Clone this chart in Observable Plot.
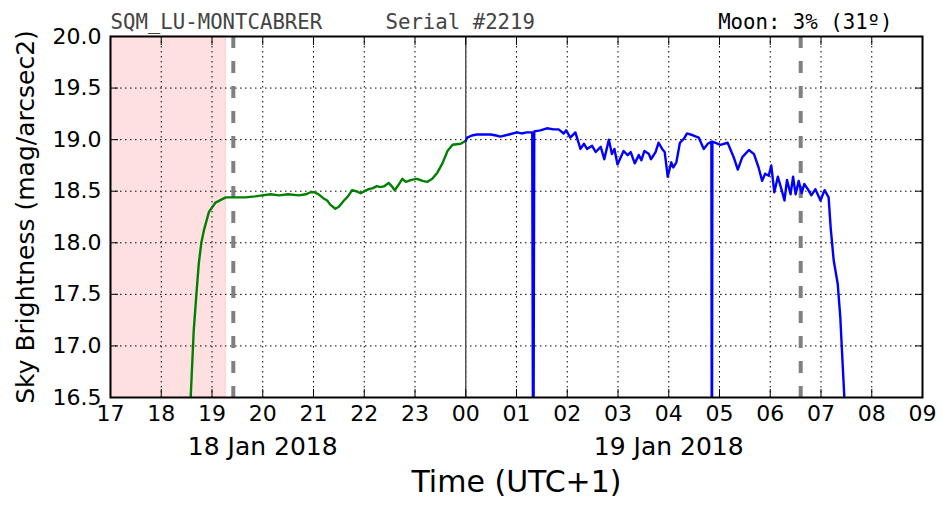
<!DOCTYPE html>
<html><head><meta charset="utf-8">
<script src="https://cdn.jsdelivr.net/npm/d3@7"></script>
<script src="https://cdn.jsdelivr.net/npm/@observablehq/plot@0.6"></script>
<style>
body{margin:0;background:#fff;}
</style></head><body><div id="chart"></div>
<script>
// ---- data ----
const xTicks = [17,18,19,20,21,22,23,24,25,26,27,28,29,30,31,32,33];
const xTickLabels = ["17","18","19","20","21","22","23","00","01","02","03","04","05","06","07","08","09"];
const yTicks = [16.5, 17.0, 17.5, 18.0, 18.5, 19.0, 19.5, 20.0];
const dateLabels = ["18 Jan 2018", "19 Jan 2018"];
const dateHours = [20, 28];
const twilightStart = [17];
const twilightEnd = [19.27];
const sunLines = [19.42, 30.6];
const midnight = [24];

// [hour, mag/arcsec2] — evening (green) series
const greenSeries = [
 [18.58,16.50],[18.64,17.15],[18.70,17.55],[18.74,17.80],[18.79,18.00],[18.84,18.12],[18.94,18.30],
 [19.07,18.39],[19.27,18.44],[19.45,18.44],[19.66,18.44],[19.85,18.45],[19.99,18.46],[20.15,18.47],
 [20.32,18.46],[20.50,18.47],[20.71,18.46],[20.85,18.47],[20.94,18.49],[21.02,18.49],[21.10,18.47],
 [21.20,18.43],[21.27,18.41],[21.33,18.37],[21.43,18.33],[21.50,18.35],[21.60,18.41],[21.68,18.45],
 [21.76,18.51],[21.84,18.50],[21.93,18.48],[22.00,18.50],[22.09,18.52],[22.17,18.53],[22.25,18.55],
 [22.32,18.54],[22.40,18.55],[22.48,18.58],[22.54,18.55],[22.60,18.51],[22.66,18.55],[22.75,18.62],
 [22.82,18.59],[22.93,18.61],[23.04,18.62],[23.15,18.60],[23.24,18.59],[23.34,18.62],[23.44,18.68],
 [23.54,18.77],[23.64,18.89],[23.74,18.95],[23.90,18.96],[24.00,18.99]
];
// [hour, mag/arcsec2] — night (blue) series
const blueSeries = [
 [24.00,18.99],[24.03,19.02],[24.12,19.04],[24.22,19.05],[24.35,19.05],[24.49,19.05],[24.60,19.04],
 [24.68,19.03],[24.85,19.05],[25.01,19.07],[25.10,19.06],[25.20,19.07],[25.31,19.07],[25.33,15.00],
 [25.35,19.08],[25.47,19.09],[25.60,19.11],[25.73,19.10],[25.83,19.10],[25.93,19.06],[25.98,19.09],
 [26.06,19.02],[26.16,19.07],[26.26,18.91],[26.33,18.96],[26.39,18.91],[26.49,18.94],[26.56,18.88],
 [26.66,18.93],[26.73,18.81],[26.82,19.00],[26.88,18.86],[26.93,18.91],[26.99,18.76],[27.11,18.89],
 [27.19,18.85],[27.25,18.88],[27.33,18.77],[27.41,18.85],[27.46,18.80],[27.52,18.89],[27.61,18.86],
 [27.65,18.81],[27.74,18.88],[27.80,18.97],[27.87,18.91],[27.92,18.88],[27.98,18.64],[28.05,18.78],
 [28.09,18.73],[28.15,18.78],[28.22,18.97],[28.30,19.01],[28.36,19.06],[28.49,19.04],[28.59,19.02],
 [28.69,18.91],[28.77,18.96],[28.84,18.98],[28.85,15.00],[28.86,18.98],[29.02,18.95],[29.16,18.97],
 [29.28,18.83],[29.36,18.71],[29.45,18.83],[29.58,18.90],[29.68,18.86],[29.77,18.73],[29.84,18.60],
 [29.90,18.67],[29.97,18.65],[30.02,18.75],[30.08,18.49],[30.15,18.64],[30.22,18.52],[30.28,18.41],
 [30.33,18.61],[30.40,18.47],[30.45,18.64],[30.50,18.47],[30.56,18.60],[30.62,18.48],[30.67,18.57],
 [30.74,18.52],[30.81,18.46],[30.89,18.52],[30.99,18.41],[31.07,18.51],[31.15,18.44],[31.19,18.15],
 [31.25,17.83],[31.33,17.60],[31.38,17.28],[31.43,16.79],[31.46,16.50]
];

const titleLeft = "SQM_LU-MONTCABRER";
const titleMid = "Serial #2219";
const titleRight = "Moon: 3% (31º)";
const xLabel = "Time (UTC+1)";
const yLabel = "Sky Brightness (mag/arcsec2)";

// ---- build ----
const green = greenSeries.map(([t, v]) => ({t, v}));
const blue = blueSeries.map(([t, v]) => ({t, v}));
const twilight = twilightStart.map((s, i) => ({s, e: twilightEnd[i]}));
const mono = "'DejaVu Sans Mono', monospace";

const chart = Plot.plot({
  width: 952,
  height: 512,
  marginLeft: 110,
  marginRight: 30,
  marginTop: 36,
  marginBottom: 115,
  style: {fontFamily: "DejaVu Sans", fontSize: "22px", background: "white", overflow: "visible", color: "black"},
  x: {domain: [17, 33]},
  y: {domain: [16.5, 20]},
  marks: [
    Plot.rect(twilight, {x1: "s", x2: "e", fill: "#ffe0e0", stroke: "#ffcccc", strokeWidth: 1}),
    Plot.gridX(xTicks, {stroke: "black", strokeOpacity: 1, strokeWidth: 1, strokeDasharray: "1.5,3.5"}),
    Plot.gridY(yTicks, {stroke: "black", strokeOpacity: 1, strokeWidth: 1, strokeDasharray: "1.5,3.5"}),
    Plot.ruleX(midnight, {stroke: "#555", strokeWidth: 1.5}),
    Plot.ruleX(sunLines, {stroke: "#808080", strokeWidth: 4, strokeDasharray: "12,13"}),
    Plot.line(green, {x: "t", y: "v", stroke: "#008000", strokeWidth: 2.4, clip: true}),
    Plot.line(blue, {x: "t", y: "v", stroke: "#0000ff", strokeWidth: 2.4, clip: true}),
    Plot.frame({stroke: "black", strokeWidth: 2}),
    Plot.axisX(xTicks, {anchor: "bottom", tickSize: -8, text: null, label: null, strokeWidth: 1}),
    Plot.axisX(xTicks, {anchor: "top", tickSize: -8, text: null, label: null, strokeWidth: 1}),
    Plot.axisY(yTicks, {anchor: "left", tickSize: -8, text: null, label: null, strokeWidth: 1}),
    Plot.axisY(yTicks, {anchor: "right", tickSize: -8, text: null, label: null, strokeWidth: 1}),
    Plot.axisX(xTicks, {anchor: "bottom", tickSize: 0, tickPadding: 8, label: null, fontSize: 22,
      tickFormat: d => xTickLabels[xTicks.indexOf(d)]}),
    Plot.axisY(yTicks, {anchor: "left", tickSize: 0, tickPadding: 9, label: null, fontSize: 22,
      tickFormat: d3.format(".1f")}),
    Plot.text(dateLabels, {x: (d, i) => dateHours[i], frameAnchor: "bottom", dy: 57, fontSize: 25, text: d => d}),
    Plot.text([xLabel], {frameAnchor: "bottom", dy: 94, fontSize: 30, text: d => d}),
    Plot.text([yLabel], {frameAnchor: "left", textAnchor: "middle", dx: -85, rotate: -90, fontSize: 25, text: d => d}),
    Plot.text([titleLeft], {frameAnchor: "top-left", textAnchor: "start", lineAnchor: "bottom", dy: -8, fontFamily: mono, fontSize: 20.7, fill: "#444", text: d => d}),
    Plot.text([titleMid], {frameAnchor: "top-left", textAnchor: "start", lineAnchor: "bottom", dx: 275, dy: -8, fontFamily: mono, fontSize: 20.7, fill: "#444", text: d => d}),
    Plot.text([titleRight], {frameAnchor: "top-right", textAnchor: "end", lineAnchor: "bottom", dx: -30, dy: -8, fontFamily: mono, fontSize: 20.7, fill: "black", text: d => d})
  ]
});
document.getElementById("chart").appendChild(chart);
</script>
</body></html>
